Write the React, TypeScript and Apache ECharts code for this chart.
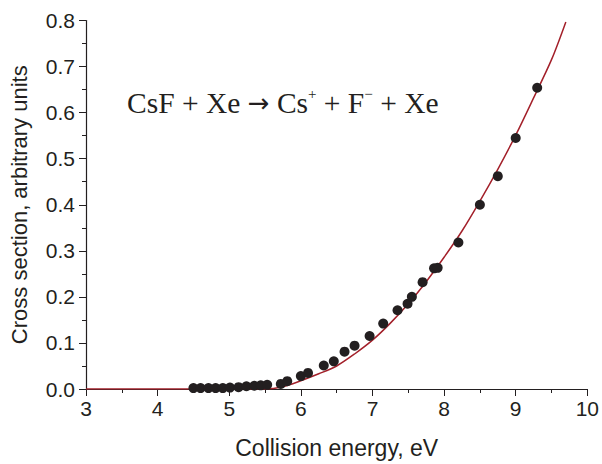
import React, { useEffect, useRef } from "react";
import * as echarts from "echarts";

// Measured cross section (collision energy in eV, cross section in arbitrary units)
const measuredEnergy = [
  4.5, 4.6, 4.71, 4.81, 4.91, 5.01, 5.13, 5.24, 5.35, 5.44, 5.53,
  5.72, 5.81, 6.0, 6.1, 6.32, 6.46, 6.61, 6.75, 6.96, 7.15, 7.35,
  7.49, 7.55, 7.7, 7.86, 7.91, 8.2, 8.5, 8.75, 9.0, 9.3,
];
const measuredSigma = [
  0.002, 0.002, 0.002, 0.002, 0.002, 0.003, 0.004, 0.006, 0.007, 0.008, 0.009,
  0.011, 0.017, 0.028, 0.035, 0.051, 0.06, 0.081, 0.094, 0.115, 0.142, 0.171,
  0.185, 0.2, 0.232, 0.262, 0.263, 0.318, 0.4, 0.462, 0.545, 0.654,
];

// Model curve
const modelEnergy = [
  3, 4, 5, 5.5, 5.75, 6.0, 6.25, 6.5, 6.75, 7.0, 7.25, 7.5, 7.75, 8.0, 8.25,
  8.5, 8.75, 9.0, 9.25, 9.5, 9.7,
];
const modelSigma = [
  0, 0, 0, 0, 0.005, 0.018, 0.033, 0.05, 0.076, 0.106, 0.143, 0.185, 0.233,
  0.286, 0.343, 0.408, 0.477, 0.551, 0.632, 0.715, 0.797,
];

const xTicks = { min: 3, max: 10, interval: 1 };
const yTicks = { min: 0, max: 0.8, interval: 0.1 };

const FONT = "Liberation Sans, Arial, sans-serif";
const SERIF = "Liberation Serif, Times New Roman, serif";
const INK = "#231f20";

export default function App() {
  const ref = useRef<HTMLDivElement>(null);

  useEffect(() => {
    if (!ref.current) return;
    const chart = echarts.init(ref.current, null, { renderer: "svg" });
    const axisLine = { show: true, lineStyle: { color: INK, width: 1.2 } };
    const axisTick = { show: true, inside: false, length: 7, lineStyle: { color: INK } };
    const minorTick = { show: true, splitNumber: 2, length: 4, lineStyle: { color: INK } };
    chart.setOption({
      animation: false,
      backgroundColor: "#ffffff",
      grid: { left: 85, right: 13, top: 20.5, bottom: 71 },
      xAxis: {
        type: "value",
        min: xTicks.min,
        max: xTicks.max,
        interval: xTicks.interval,
        name: "Collision energy, eV",
        nameLocation: "middle",
        nameGap: 47,
        nameTextStyle: { fontFamily: FONT, fontSize: 23, color: INK },
        axisLine,
        axisTick,
        minorTick,
        axisLabel: { fontFamily: FONT, fontSize: 21, color: INK, margin: 9 },
        splitLine: { show: false },
      },
      yAxis: {
        type: "value",
        min: yTicks.min,
        max: yTicks.max,
        interval: yTicks.interval,
        name: "Cross section, arbitrary units",
        nameLocation: "middle",
        nameGap: 56,
        nameTextStyle: { fontFamily: FONT, fontSize: 22, color: INK },
        axisLine,
        axisTick,
        minorTick,
        axisLabel: {
          fontFamily: FONT,
          fontSize: 21,
          color: INK,
          margin: 11,
          formatter: (v: number) => v.toFixed(1),
        },
        splitLine: { show: false },
      },
      graphic: [
        {
          type: "text",
          left: 127,
          top: 86,
          style: {
            text: "{m|CsF + Xe }{a|→}{m| Cs}{s|+}{m| + F}{s|−}{m| + Xe}",
            fill: INK,
            rich: {
              m: { fontFamily: SERIF, fontSize: 29.5, lineHeight: 34, fill: INK },
              a: { fontFamily: "DejaVu Sans", fontSize: 26, lineHeight: 34, fill: INK },
              s: {
                fontFamily: SERIF,
                fontSize: 15,
                lineHeight: 15,
                verticalAlign: "top",
                fill: INK,
              },
            },
          },
        },
      ],
      series: [
        {
          type: "line",
          data: modelEnergy.map((e, i) => [e, modelSigma[i]]),
          showSymbol: false,
          smooth: 0.3,
          lineStyle: { color: "#a3202a", width: 1.5 },
          z: 2,
        },
        {
          type: "scatter",
          data: measuredEnergy.map((e, i) => [e, measuredSigma[i]]),
          symbol: "circle",
          symbolSize: 10,
          itemStyle: { color: INK, opacity: 1 },
          z: 3,
        },
      ],
    });
    return () => chart.dispose();
  }, []);

  return (
    <div
      ref={ref}
      style={{ position: "fixed", left: 0, top: 0, width: 602, height: 464, overflow: "hidden" }}
    />
  );
}
